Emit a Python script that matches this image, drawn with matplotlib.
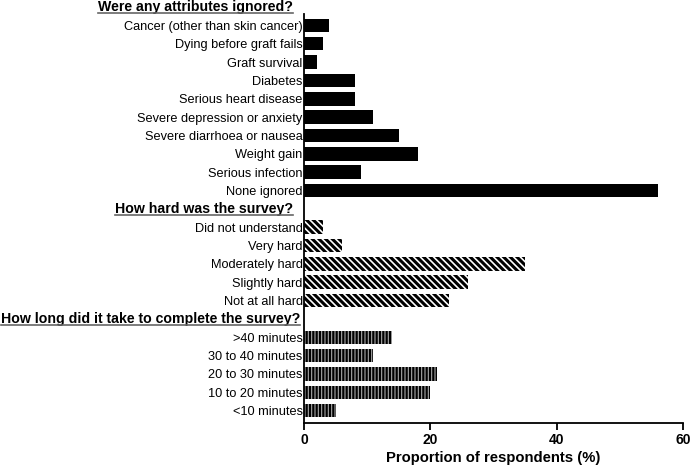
import matplotlib
matplotlib.use('Agg')
import matplotlib.pyplot as plt
from matplotlib.lines import Line2D

plt.rcParams['font.family'] = ['Liberation Sans', 'DejaVu Sans']

titulo_1 = 'Were any attributes ignored?'
atributos = ['Cancer (other than skin cancer)', 'Dying before graft fails', 'Graft survival',
             'Diabetes', 'Serious heart disease', 'Severe depression or anxiety',
             'Severe diarrhoea or nausea', 'Weight gain', 'Serious infection', 'None ignored']
valores_atributos = [4, 3, 2, 8, 8, 11, 15, 18, 9, 56]

titulo_2 = 'How hard was the survey?'
dificultad = ['Did not understand', 'Very hard', 'Moderately hard', 'Slightly hard', 'Not at all hard']
valores_dificultad = [3, 6, 35, 26, 23]

titulo_3 = 'How long did it take to complete the survey?'
duracion = ['>40 minutes', '30 to 40 minutes', '20 to 30 minutes', '10 to 20 minutes', '<10 minutes']
valores_duracion = [14, 11, 21, 20, 5]

fig = plt.figure(figsize=(6.9, 4.66), dpi=100)
ax = fig.add_axes([0.4406, 0.0923, 0.549, 0.8777])

alto = 0.74

# posiciones: cada titulo ocupa una fila
pos1 = list(range(1, 1 + len(atributos)))
pos2 = list(range(12, 12 + len(dificultad)))
pos3 = list(range(18, 18 + len(duracion)))

ax.barh(pos1, valores_atributos, height=alto, color='black', linewidth=0)

plt.rcParams['hatch.linewidth'] = 2.2
ax.barh(pos2, valores_dificultad, height=alto, color='white', edgecolor='black',
        hatch='\\' * 5, linewidth=0)

plt.rcParams['hatch.linewidth'] = 0.8
ax.barh(pos3, valores_duracion, height=alto, color='black', edgecolor='#aaaaaa',
        hatch='|||||', linewidth=0)

ax.set_yticks(pos1 + pos2 + pos3)
ax.set_yticklabels(atributos + dificultad + duracion, fontsize=9.2)
ax.tick_params(axis='y', length=0, pad=1)
ax.set_ylim(22.67, 0.38)

ax.set_xlim(0, 60)
ax.set_xticks([0, 20, 40, 60])
ax.tick_params(axis='x', length=5, width=1.3, labelsize=10, pad=2)
for t in ax.get_xticklabels():
    t.set_fontweight('bold')
ax.set_xlabel('Proportion of respondents (%)', fontsize=10.7, fontweight='bold', labelpad=3)

for s in ['top', 'right']:
    ax.spines[s].set_visible(False)
for s in ['left', 'bottom']:
    ax.spines[s].set_linewidth(1.3)

titulos = []
for texto, fila, x in [(titulo_1, 0, -0.029), (titulo_2, 11, -0.029), (titulo_3, 17, -0.0106)]:
    t = ax.text(x, fila, texto, transform=ax.get_yaxis_transform(), ha='right', va='center',
                fontsize=10.2, fontweight='bold')
    titulos.append(t)

fig.canvas.draw()
r = fig.canvas.get_renderer()
for t in titulos:
    bb = t.get_window_extent(r).transformed(fig.transFigure.inverted())
    y = bb.y0 + 0.002
    fig.add_artist(Line2D([bb.x0, bb.x1], [y, y], color='#666666', linewidth=1.2,
                          transform=fig.transFigure))

fig.savefig('out.png', dpi=100)
